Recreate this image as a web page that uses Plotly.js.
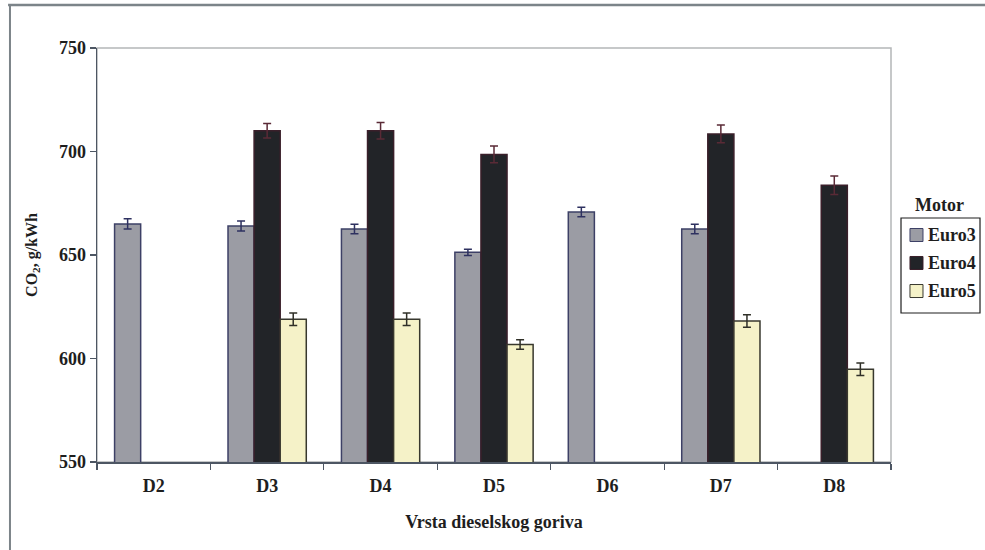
<!DOCTYPE html>
<html>
<head>
<meta charset="utf-8">
<script src="https://cdn.plot.ly/plotly-3.0.1.min.js"></script>
<style>
  html, body { margin: 0; padding: 0; background: #ffffff; }
  #chart { width: 985px; height: 550px; }
</style>
</head>
<body>
<div id="chart"></div>
<script>
// Fuel types on the x axis
const fuels = ['D2', 'D3', 'D4', 'D5', 'D6', 'D7', 'D8'];

// Engine classes (legend entries)
const engines = ['Euro3', 'Euro4', 'Euro5'];

// CO2 emission (g/kWh) per engine class; null = not tested
const euro3 = [665, 664, 662.6, 651.3, 670.8, 662.6, null];
const euro4 = [null, 710, 710, 698.6, null, 708.5, 683.7];
const euro5 = [null, 619, 619, 606.8, null, 618.1, 594.8];

// Error bar half-widths
const euro3Err = [2.5, 2.4, 2.3, 1.5, 2.3, 2.3, 0];
const euro4Err = [0, 3.5, 4, 4, 0, 4.3, 4.5];
const euro5Err = [0, 3, 3, 2.3, 0, 3, 3];

const serif = 'Liberation Serif, Times New Roman, serif';
const ink = '#1e1e1e';

const styles = [
  { fill: '#9b9ca4', edge: '#3d4066', err: '#2e3160' },
  { fill: '#222428', edge: '#3a1f2a', err: '#5a2a36' },
  { fill: '#f5f2c8', edge: '#38382e', err: '#303028' }
];
const values = [euro3, euro4, euro5];
const errors = [euro3Err, euro4Err, euro5Err];

const data = engines.map((name, i) => ({
  type: 'bar',
  name: name,
  x: fuels,
  y: values[i],
  marker: { color: styles[i].fill, line: { color: styles[i].edge, width: 1.5 } },
  error_y: { type: 'data', array: errors[i], visible: true,
             color: styles[i].err, thickness: 1.5, width: 4 },
  showlegend: false
}));

// Boxed legend to the right of the plot, with its heading above the box
const shapes = [
  // plot area frame
  { type: 'rect', xref: 'paper', yref: 'paper', x0: 0, x1: 1, y0: 0, y1: 1,
    line: { color: '#b4b6b8', width: 1.5 }, layer: 'below' },
  // outer figure frame (top and left edges)
  { type: 'line', xref: 'paper', yref: 'paper', x0: -0.112, x1: 1.2, y0: 1.104, y1: 1.104,
    line: { color: '#7c8489', width: 2.5 } },
  { type: 'line', xref: 'paper', yref: 'paper', x0: -0.1096, x1: -0.1096, y0: -0.22, y1: 1.104,
    line: { color: '#7c8489', width: 2 } },
  // legend box
  { type: 'rect', xref: 'paper', yref: 'paper', x0: 1.0126, x1: 1.1121, y0: 0.3599, y1: 0.5894,
    line: { color: ink, width: 1.2 }, fillcolor: '#ffffff' }
];
const annotations = [
  { text: '<b>Motor</b>', xref: 'paper', yref: 'paper', x: 1.0611, y: 0.6208,
    xanchor: 'center', yanchor: 'middle', showarrow: false,
    font: { family: serif, size: 18, color: ink } }
];
const rowY = [0.5483, 0.4807, 0.4130];
engines.forEach((name, i) => {
  shapes.push({ type: 'rect', xref: 'paper', yref: 'paper',
    x0: 1.0239, x1: 1.0403, y0: rowY[i] - 0.0157, y1: rowY[i] + 0.0157,
    fillcolor: styles[i].fill, line: { color: styles[i].edge, width: 1 } });
  annotations.push({ text: '<b>' + name + '</b>', xref: 'paper', yref: 'paper',
    x: 1.0441, y: rowY[i], xanchor: 'left', yanchor: 'middle', showarrow: false,
    font: { family: serif, size: 18, color: ink } });
});

const layout = {
  width: 985,
  height: 550,
  margin: { l: 97, r: 94, t: 48, b: 88 },
  paper_bgcolor: '#ffffff',
  plot_bgcolor: '#ffffff',
  font: { family: serif, color: ink, size: 18 },
  barmode: 'group',
  bargap: 0.31,
  bargroupgap: 0,
  showlegend: false,
  xaxis: {
    type: 'category',
    tickson: 'boundaries',
    ticks: 'outside', ticklen: 6, tickwidth: 1.2, tickcolor: '#4d5663',
    showline: true, linecolor: '#4d5663', linewidth: 1.5,
    showgrid: false, zeroline: false,
    ticklabelstandoff: 7,
    tickfont: { family: serif, size: 18, color: ink, weight: 'bold' },
    title: { text: 'Vrsta dieselskog goriva', standoff: 20,
             font: { family: serif, size: 18, color: ink, weight: 'bold' } }
  },
  yaxis: {
    range: [550, 750],
    tickvals: [550, 600, 650, 700, 750],
    ticks: 'outside', ticklen: 6, tickwidth: 1.2, tickcolor: '#4d5663',
    showline: true, linecolor: '#4d5663', linewidth: 1.5,
    showgrid: false, zeroline: false,
    tickfont: { family: serif, size: 18, color: ink, weight: 'bold' },
    title: { text: 'CO<sub>2</sub>, g/kWh', standoff: 17,
             font: { family: serif, size: 16, color: ink, weight: 'bold' } }
  },
  shapes: shapes,
  annotations: annotations
};

Plotly.newPlot('chart', data, layout, { displayModeBar: false, staticPlot: true });
</script>
</body>
</html>
